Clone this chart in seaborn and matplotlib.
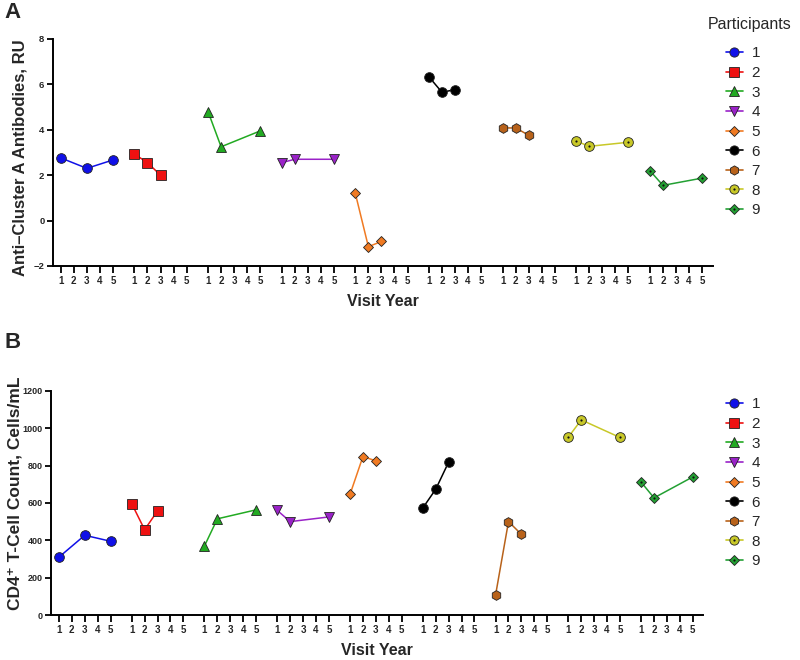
import numpy as np
import pandas as pd
import seaborn as sns
import matplotlib
matplotlib.use("Agg")
import matplotlib.pyplot as plt
from matplotlib.lines import Line2D

sns.set_style("ticks")
plt.rcParams['font.family'] = ['Liberation Sans', 'DejaVu Sans']

# ---------------- data ----------------
participants = ['1', '2', '3', '4', '5', '6', '7', '8', '9']
visit_years = [[1, 3, 5], [1, 2, 3], [1, 2, 5], [1, 2, 5], [1, 2, 3],
               [1, 2, 3], [1, 2, 3], [1, 2, 5], [1, 2, 5]]
antibodies = [[2.76, 2.30, 2.67], [2.93, 2.55, 2.00], [4.80, 3.25, 3.95],
              [2.55, 2.70, 2.70], [1.20, -1.15, -0.92], [6.33, 5.65, 5.77],
              [4.08, 4.08, 3.76], [3.50, 3.27, 3.45], [2.20, 1.55, 1.87]]
cd4_counts = [[310, 427, 395], [596, 457, 557], [370, 515, 563],
              [560, 500, 525], [646, 848, 825], [573, 673, 818],
              [108, 500, 432], [952, 1044, 950], [711, 627, 739]]
year_ticks = [1, 2, 3, 4, 5]

colors = ['#1010e8', '#ee1111', '#22aa22', '#9a22c8', '#f07a22',
          '#000000', '#b8621a', '#c8c828', '#23a033']
markers = ['o', 's', '^', 'v', 'D', 'o', 'h', 'o', 'D']
msizes = [7.0, 7.0, 7.5, 7.5, 5.0, 7.0, 7.0, 7.0, 5.0]
dotted = [False] * 7 + [True, True]

GAP = 5.64


def build(values):
    rows = []
    for gi, (p, yrs, vals) in enumerate(zip(participants, visit_years, values)):
        for yr, v in zip(yrs, vals):
            rows.append({'participant': p, 'pos': gi * GAP + (yr - 1), 'value': v})
    return pd.DataFrame(rows)


def draw(ax, df):
    for gi, p in enumerate(participants):
        sub = df[df.participant == p]
        sns.lineplot(data=sub, x='pos', y='value', ax=ax, color=colors[gi],
                     marker=markers[gi], markersize=msizes[gi],
                     markeredgecolor='#222222', markeredgewidth=0.6,
                     linewidth=1.1, legend=False, sort=False)
        if dotted[gi]:
            sns.scatterplot(data=sub, x='pos', y='value', ax=ax, color='#111111',
                            s=2.5, linewidth=0, legend=False, zorder=5)
    pos = [gi * GAP + (y - 1) for gi in range(len(participants)) for y in year_ticks]
    labs = [str(y) for _ in participants for y in year_ticks]
    ax.set_xticks(pos)
    ax.set_xticklabels(labs, fontsize=7, fontweight='bold')
    ax.tick_params(axis='x', direction='out', length=5, width=1.3, pad=2,
                   color='black')
    ax.tick_params(axis='y', direction='out', length=4.5, width=1.3, pad=1.5,
                   color='black')
    sns.despine(ax=ax)
    for s in ['left', 'bottom']:
        ax.spines[s].set_linewidth(1.4)
        ax.spines[s].set_color('black')
    ax.set_xlabel('Visit Year', fontsize=11.5, fontweight='bold', labelpad=6)


def legend_handles():
    hs = []
    for gi in range(len(participants)):
        h = Line2D([], [], color=colors[gi], marker=markers[gi],
                   markersize=msizes[gi] * 0.95, markeredgecolor='#222222',
                   markeredgewidth=0.6, linewidth=1.2)
        if dotted[gi]:
            d = Line2D([], [], color='#111111', marker='o', markersize=1.6,
                       linestyle='none', markeredgewidth=0)
            hs.append((h, d))
        else:
            hs.append(h)
    return hs


fig = plt.figure(figsize=(8, 6.6), dpi=100)
axA = fig.add_axes([0.066, 0.597, 0.825, 0.344])
axB = fig.add_axes([0.064, 0.068, 0.815, 0.340])

dfA = build(antibodies)
dfB = build(cd4_counts)

draw(axA, dfA)
axA.set_ylim(-2, 8)
axA.set_yticks([-2, 0, 2, 4, 6, 8])
axA.set_xlim(-0.61, 8 * GAP + 4 + 0.82)
axA.set_ylabel('Anti\u2013Cluster A Antibodies, RU', fontsize=12, fontweight='bold')
axA.yaxis.set_label_coords(-0.0379, 0.478)
for lab in axA.get_yticklabels():
    lab.set_fontweight('bold'); lab.set_fontsize(6.8)

draw(axB, dfB)
axB.set_ylim(0, 1200)
axB.set_yticks([0, 200, 400, 600, 800, 1000, 1200])
axB.set_xlim(-0.6, 8 * GAP + 4 + 0.81)
axB.set_ylabel('CD4\u207a T-Cell Count, Cells/mL', fontsize=12.5, fontweight='bold')
axB.yaxis.set_label_coords(-0.0445, 0.545)
for lab in axB.get_yticklabels():
    lab.set_fontweight('bold'); lab.set_fontsize(6.5)

fig.text(0.006, 0.997, 'A', fontsize=16, fontweight='bold', va='top', ha='left')
fig.text(0.006, 0.497, 'B', fontsize=16, fontweight='bold', va='top', ha='left')

fig.text(750 / 800, 1 - 25 / 660, 'Participants', fontsize=11.5, ha='center', va='center')
legA = fig.legend(legend_handles(), participants,
                  loc='upper center', bbox_to_anchor=(743 / 800, 1 - 32.5 / 660), frameon=False,
                  fontsize=11, labelspacing=0.37,
                  handlelength=1.1, handletextpad=0.6)
legB = fig.legend(legend_handles(), participants,
                  loc='upper center', bbox_to_anchor=(743 / 800, 1 - 383.5 / 660), frameon=False,
                  fontsize=11, labelspacing=0.37,
                  handlelength=1.1, handletextpad=0.6)

fig.savefig('out.png', dpi=100)
